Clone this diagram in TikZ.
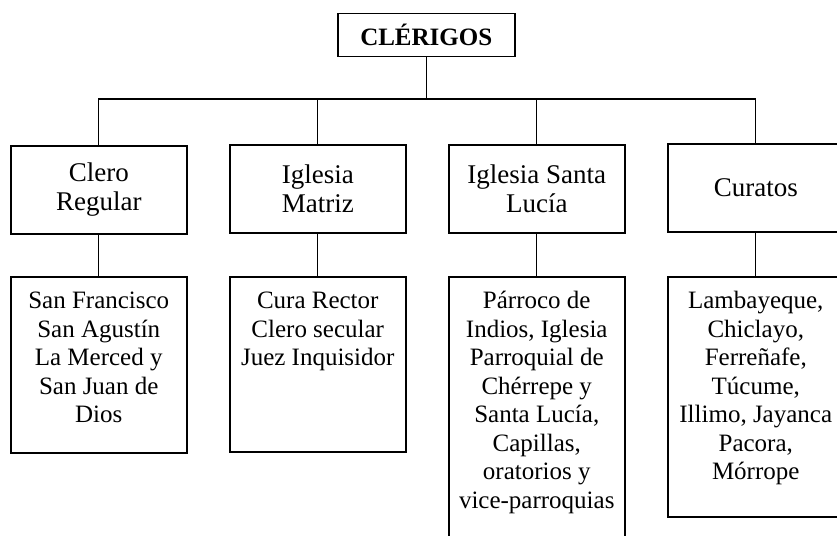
\documentclass[tikz,border=0pt]{standalone}
\usepackage{fontspec}
\setmainfont{Liberation Serif}
\begin{document}
\begin{tikzpicture}[x=1pt,y=-1pt,
  box/.style={draw, line width=1.5pt, rectangle, inner sep=0pt, anchor=north west},
  topbox/.style={box, minimum width=177pt, minimum height=43pt, font=\bfseries\fontsize{25}{28}\selectfont},
  lvltwo/.style={box, minimum width=176pt, minimum height=88pt, align=center, font=\fontsize{27}{28.5}\selectfont},
  lvlthree/.style={box, font=\fontsize{25}{28.5}\selectfont},
  link/.style={line width=1.4pt}]
\useasboundingbox (0,0) rectangle (837,535);
\clip (0,0) rectangle (837,535);
\node[topbox] (top) at (337,13) {CLÉRIGOS};
\node[lvltwo] (c1) at (10,145) {Clero\\Regular};
\node[lvltwo] (c2) at (229,144) {Iglesia\\Matriz};
\node[lvltwo] (c3) at (448,144) {Iglesia Santa\\Lucía};
\node[lvltwo] (c4) at (667,143) {Curatos};
\node[lvlthree] (d1) at (10,276) {\parbox[c][176pt][t]{176pt}{\centering\rule{0pt}{32pt}San Francisco\\San Agustín\\La Merced y\\San Juan de\\Dios}};
\node[lvlthree] (d2) at (229,276) {\parbox[c][175pt][t]{176pt}{\centering\rule{0pt}{32pt}Cura Rector\\Clero secular\\Juez Inquisidor}};
\node[lvlthree] (d3) at (448,276) {\parbox[c][290pt][t]{176pt}{\centering\rule{0pt}{32pt}Párroco de\\Indios, Iglesia\\Parroquial de\\Chérrepe y\\Santa Lucía,\\Capillas,\\oratorios y\\vice-parroquias}};
\node[lvlthree] (d4) at (667,276) {\parbox[c][240pt][t]{176pt}{\centering\rule{0pt}{32pt}Lambayeque,\\Chiclayo,\\Ferreñafe,\\Túcume,\\Illimo, Jayanca\\Pacora,\\Mórrope}};
\coordinate (bus) at (0,99);
\draw[link] (top.south) -- (top.south |- bus);
\draw[link] (c1.north) -- (c1.north |- bus) -- (c4.north |- bus) -- (c4.north);
\draw[link] (c2.north) -- (c2.north |- bus);
\draw[link] (c3.north) -- (c3.north |- bus);
\draw[link] (c1.south) -- (d1.north);
\draw[link] (c2.south) -- (d2.north);
\draw[link] (c3.south) -- (d3.north);
\draw[link] (c4.south) -- (d4.north);
\end{tikzpicture}
\end{document}
